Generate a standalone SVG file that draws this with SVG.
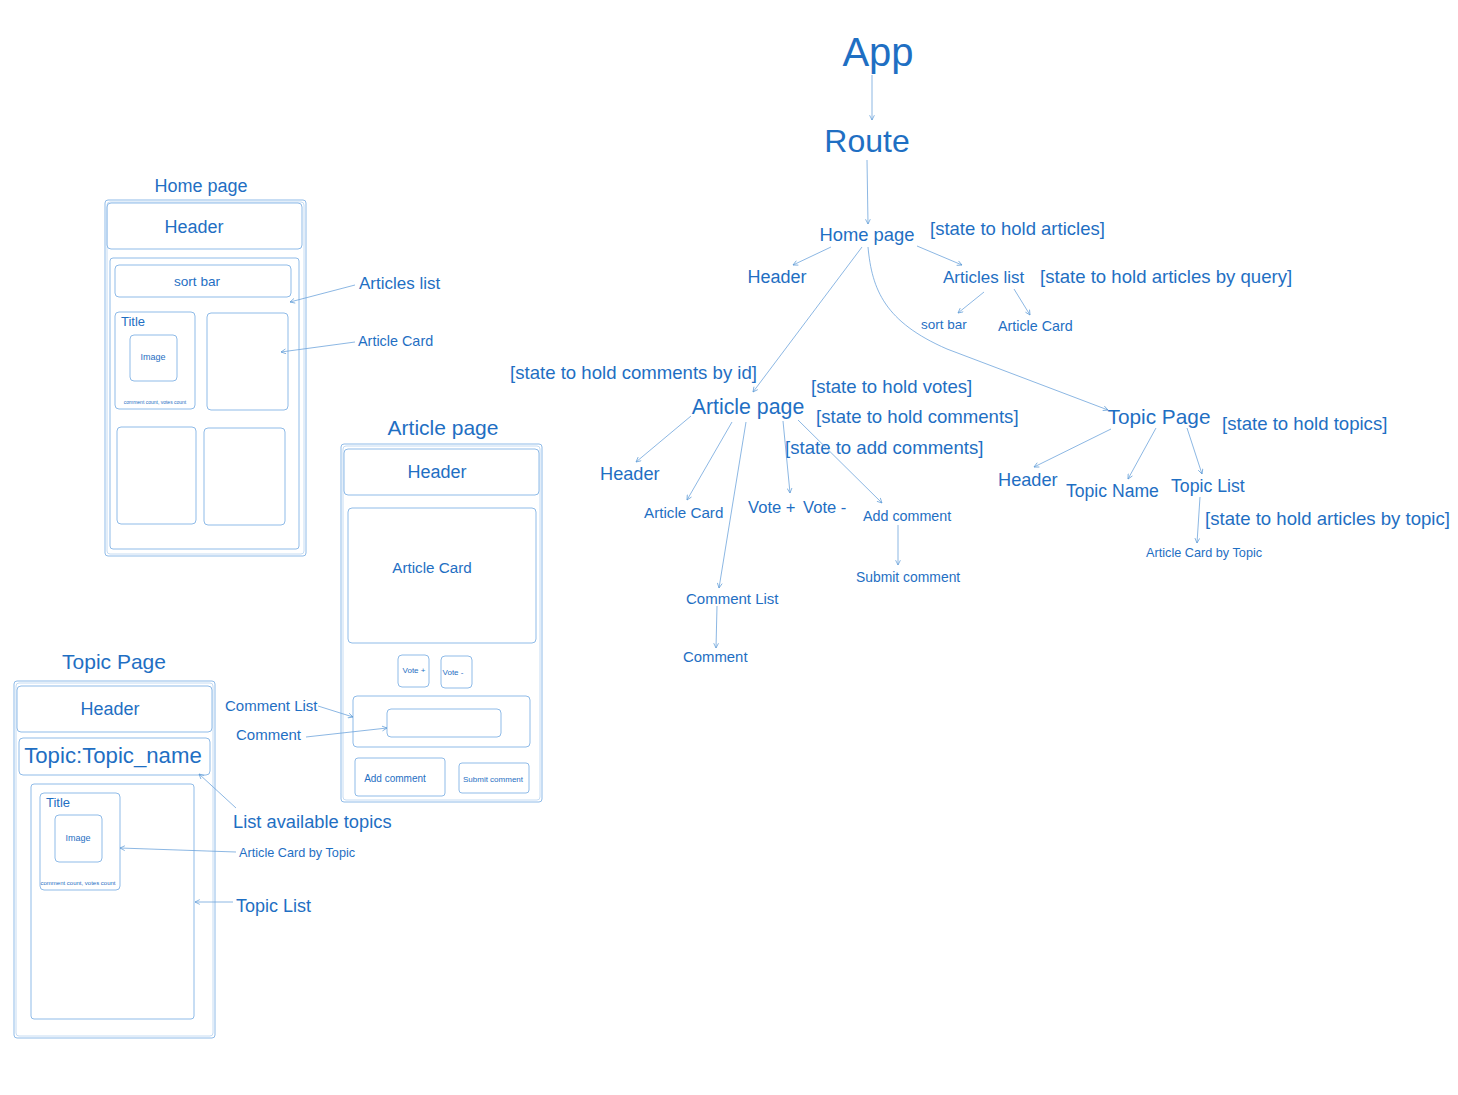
<svg xmlns="http://www.w3.org/2000/svg" width="1458" height="1095" viewBox="0 0 1458 1095">
<defs>
<marker id="ah" viewBox="0 0 10 10" refX="9" refY="5" markerWidth="6" markerHeight="6" orient="auto" markerUnits="userSpaceOnUse">
<path d="M1,1 L9,5 L1,9" fill="none" stroke="#5e9bd6" stroke-width="1.2"/>
</marker>
<style>
text{font-family:"Liberation Sans",Arial,sans-serif;fill:#1f6fc3;dominant-baseline:central}
.c{text-anchor:middle}
.box{fill:none;stroke:#8fbbe8;stroke-width:1}
.box2{fill:none;stroke:#c6dcf3;stroke-width:1}
.ln{fill:none;stroke:#6ea4dc;stroke-width:0.8;marker-end:url(#ah)}
</style>
</defs>
<rect width="1458" height="1095" fill="#ffffff"/>

<!-- Home page wireframe -->
<g id="home-wire">
<text x="201" y="186" class="c" font-size="18">Home page</text>
<rect class="box" x="105" y="200" width="201" height="356" rx="3"/>
<rect class="box2" x="107" y="202" width="197" height="352" rx="3"/>
<rect class="box" x="107" y="203" width="195" height="46" rx="4"/>
<text x="194" y="227" class="c" font-size="18">Header</text>
<rect class="box" x="110" y="258" width="189" height="291" rx="3"/>
<rect class="box" x="115" y="265" width="176" height="32" rx="4"/>
<text x="197" y="281" class="c" font-size="13.6">sort bar</text>
<rect class="box" x="115" y="312" width="80" height="97" rx="4"/>
<text x="121" y="321" font-size="13">Title</text>
<rect class="box" x="130" y="335" width="47" height="46" rx="4"/>
<text x="153" y="357" class="c" font-size="9">Image</text>
<text x="155" y="402" class="c" font-size="5">comment count, votes count</text>
<rect class="box" x="207" y="313" width="81" height="97" rx="4"/>
<rect class="box" x="117" y="427" width="79" height="97" rx="4"/>
<rect class="box" x="204" y="428" width="81" height="97" rx="4"/>
<text x="359" y="283" font-size="17">Articles list</text>
<text x="358" y="341" font-size="14.4">Article Card</text>
</g>

<!-- Article page wireframe -->
<g id="article-wire">
<text x="443" y="427" class="c" font-size="21">Article page</text>
<rect class="box" x="341" y="444" width="201" height="358" rx="3"/>
<rect class="box2" x="343" y="446" width="197" height="354" rx="3"/>
<rect class="box" x="344" y="449" width="195" height="46" rx="4"/>
<text x="437" y="472" class="c" font-size="18">Header</text>
<rect class="box" x="348" y="508" width="188" height="135" rx="4"/>
<text x="432" y="567" class="c" font-size="15.2">Article Card</text>
<rect class="box" x="398" y="655" width="31" height="32" rx="4"/>
<text x="414" y="670" class="c" font-size="8">Vote +</text>
<rect class="box" x="441" y="656" width="31" height="32" rx="4"/>
<text x="453" y="672" class="c" font-size="8">Vote -</text>
<rect class="box" x="353" y="696" width="177" height="51" rx="4"/>
<rect class="box" x="387" y="709" width="114" height="28" rx="4"/>
<rect class="box" x="355" y="758" width="90" height="38" rx="3"/>
<text x="395" y="778" class="c" font-size="10">Add comment</text>
<rect class="box" x="459" y="763" width="70" height="30" rx="3"/>
<text x="493" y="779" class="c" font-size="8">Submit comment</text>
<text x="225" y="705" font-size="15">Comment List</text>
<text x="236" y="734" font-size="15">Comment</text>
</g>

<!-- Topic page wireframe -->
<g id="topic-wire">
<text x="114" y="661" class="c" font-size="21">Topic Page</text>
<rect class="box" x="14" y="681" width="201" height="357" rx="3"/>
<rect class="box2" x="16" y="683" width="197" height="353" rx="3"/>
<rect class="box" x="17" y="686" width="195" height="46" rx="4"/>
<text x="110" y="709" class="c" font-size="18">Header</text>
<rect class="box" x="19" y="738" width="191" height="37" rx="4"/>
<text x="113" y="755" class="c" font-size="22.2">Topic:Topic_name</text>
<rect class="box" x="31" y="784" width="163" height="235" rx="3"/>
<rect class="box" x="40" y="793" width="80" height="97" rx="4"/>
<text x="46" y="802" font-size="13">Title</text>
<rect class="box" x="55" y="815" width="47" height="47" rx="4"/>
<text x="78" y="838" class="c" font-size="9">Image</text>
<text x="78" y="883" class="c" font-size="6">comment count, votes count</text>
<text x="233" y="821" font-size="18.3">List available topics</text>
<text x="239" y="853" font-size="12.7">Article Card by Topic</text>
<text x="236" y="906" font-size="18">Topic List</text>
</g>

<!-- Tree nodes -->
<g id="n-app"><text x="878" y="52" class="c" font-size="40">App</text></g>
<g id="n-route"><text x="867" y="141" class="c" font-size="32">Route</text></g>
<g id="n-home"><text x="867" y="234" class="c" font-size="18.4">Home page</text>
<text x="930" y="228" font-size="18.5">[state to hold articles]</text></g>
<g id="n-home-header"><text x="777" y="277" class="c" font-size="18">Header</text></g>
<g id="n-articles-list"><text x="943" y="277" font-size="17">Articles list</text>
<text x="1040" y="276" font-size="18.6">[state to hold articles by query]</text></g>
<g id="n-sortbar"><text x="921" y="324" font-size="13.5">sort bar</text></g>
<g id="n-article-card"><text x="998" y="326" font-size="14.3">Article Card</text></g>
<g id="n-article-page"><text x="510" y="372" font-size="18.6">[state to hold comments by id]</text>
<text x="748" y="407" class="c" font-size="21.3">Article page</text>
<text x="811" y="386" font-size="18.6">[state to hold votes]</text>
<text x="816" y="416" font-size="18.6">[state to hold comments]</text>
<text x="785" y="447" font-size="18.6">[state to add comments]</text></g>
<g id="n-ap-header"><text x="600" y="474" font-size="18.2">Header</text></g>
<g id="n-ap-card"><text x="644" y="512" font-size="15.2">Article Card</text></g>
<g id="n-ap-votes"><text x="748" y="507" font-size="16.6">Vote +</text><text x="803" y="507" font-size="16.6">Vote -</text></g>
<g id="n-ap-add"><text x="863" y="516" font-size="14.3">Add comment</text></g>
<g id="n-ap-submit"><text x="856" y="577" font-size="13.9">Submit comment</text></g>
<g id="n-ap-clist"><text x="686" y="598" font-size="15">Comment List</text></g>
<g id="n-ap-comment"><text x="683" y="657" font-size="14.9">Comment</text></g>
<g id="n-topic-page"><text x="1159" y="416" class="c" font-size="20.8">Topic Page</text>
<text x="1222" y="423" font-size="18.6">[state to hold topics]</text></g>
<g id="n-tp-header"><text x="998" y="480" font-size="18.2">Header</text></g>
<g id="n-tp-name"><text x="1066" y="491" font-size="17.6">Topic Name</text></g>
<g id="n-tp-list"><text x="1171" y="486" font-size="17.7">Topic List</text>
<text x="1205" y="518" font-size="18.6">[state to hold articles by topic]</text></g>
<g id="n-tp-card"><text x="1146" y="553" font-size="12.7">Article Card by Topic</text></g>

<!-- Connectors -->
<g id="connectors">
<path class="ln" d="M355,285 L290,302"/>
<path class="ln" d="M355,342 L281,352"/>
<path class="ln" d="M318,706 L353,717"/>
<path class="ln" d="M306,737 L387,728"/>
<path class="ln" d="M236,808 L199,774"/>
<path class="ln" d="M236,852 L120,848"/>
<path class="ln" d="M233,902 L195,902"/>
<path class="ln" d="M872,75 L872,120"/>
<path class="ln" d="M867,160 L868,224"/>
<path class="ln" d="M831,247 L793,265"/>
<path class="ln" d="M917,246 L962,265"/>
<path class="ln" d="M984,292 L958,313"/>
<path class="ln" d="M1014,289 L1030,315"/>
<path class="ln" d="M862,247 L753,392"/>
<path class="ln" d="M868,247 C872,290 885,322 947,349 L1108,410"/>
<path class="ln" d="M691,416 L636,462"/>
<path class="ln" d="M732,422 L687,500"/>
<path class="ln" d="M746,422 L719,588"/>
<path class="ln" d="M717,606 L716,648"/>
<path class="ln" d="M783,421 L790,493"/>
<path class="ln" d="M798,420 L882,503"/>
<path class="ln" d="M898,525 L898,565"/>
<path class="ln" d="M1111,429 L1034,467"/>
<path class="ln" d="M1156,428 L1128,479"/>
<path class="ln" d="M1187,428 L1202,474"/>
<path class="ln" d="M1200,497 L1197,543"/>
</g>
</svg>
